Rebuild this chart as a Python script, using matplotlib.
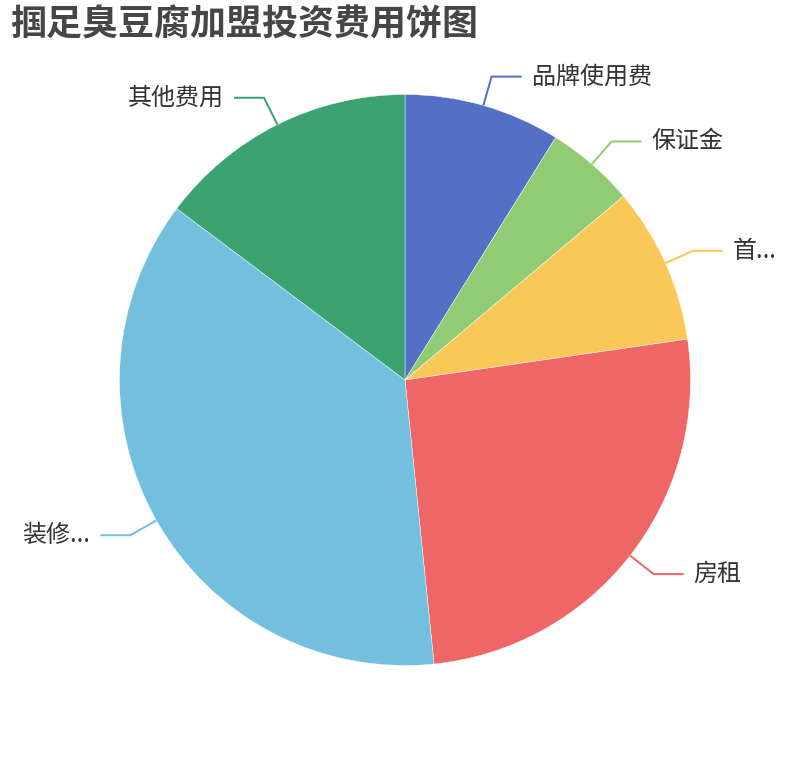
import numpy as np
import matplotlib
matplotlib.use("Agg")
import matplotlib.pyplot as plt

plt.rcParams['font.family'] = ['Noto Sans CJK SC', 'DejaVu Sans']

# data
names = ["品牌使用费", "保证金", "首...", "房租", "装修...", "其他费用"]
values = [3.0, 1.7, 3.0, 8.7, 12.5, 5.0]
colors = ["#5470c6", "#91cc75", "#fac858", "#ee6666", "#73c0de", "#3ba272"]
title = "掴足臭豆腐加盟投资费用饼图"

W, H = 810, 760
fig = plt.figure(figsize=(W / 100, H / 100), dpi=100)
ax = fig.add_axes([0, 0, 1, 1])

cx, cy, r = 405, 380, 285.5
wedges, _ = ax.pie(values, colors=colors, startangle=90, counterclock=False,
                   radius=r, center=(cx, cy), frame=True,
                   wedgeprops=dict(linewidth=0.3, edgecolor="white"))

ax.set_xlim(0, W)
ax.set_ylim(0, H)
ax.set_aspect("equal")
ax.axis("off")

# leader lines + labels like echarts (length 30, length2 30, gap 10)
for w, name, c in zip(wedges, names, colors):
    mid = np.deg2rad((w.theta1 + w.theta2) / 2)
    x0, y0 = cx + r * np.cos(mid), cy + r * np.sin(mid)
    x1, y1 = cx + (r + 30) * np.cos(mid), cy + (r + 30) * np.sin(mid)
    side = 1 if np.cos(mid) >= 0 else -1
    x2 = x1 + side * 30
    ax.plot([x0, x1, x2], [y0, y1, y1], color=c, lw=1.44, solid_capstyle="butt")
    ax.text(x2 + side * 10, y1, name, fontsize=17.3, color="#333333",
            ha="left" if side > 0 else "right", va="center")

fig.text(10 / W, 1 - 7 / H, title, fontsize=25.9, fontweight="bold",
         color="#464646", ha="left", va="top")

fig.savefig("out.png", dpi=100)
